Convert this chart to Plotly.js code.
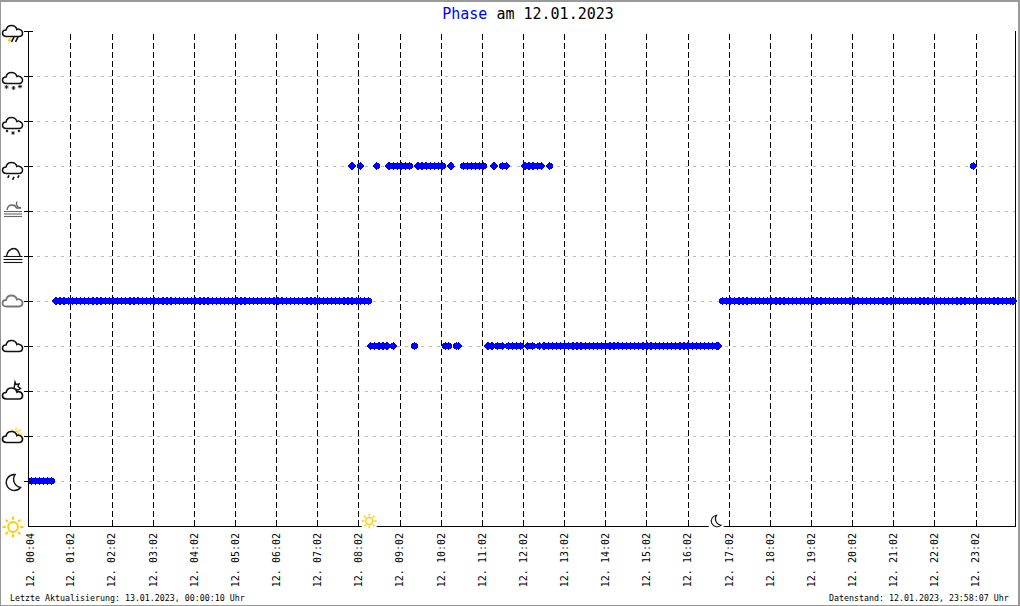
<!DOCTYPE html>
<html><head><meta charset="utf-8">
<script src="https://cdn.plot.ly/plotly-3.0.1.min.js"></script>
<style>
html,body{margin:0;padding:0;background:#fff;overflow:hidden}
#chart{position:absolute;left:0;top:0;width:1020px;height:606px}
#frame{position:absolute;left:0;top:0;width:1020px;height:606px;box-sizing:border-box;border-style:solid;border-color:#999;border-width:2px 2px 1px 1px;pointer-events:none}
.scatterlayer path.point,.shapelayer path{shape-rendering:crispEdges}
</style></head><body>
<div id="chart"></div><div id="frame"></div>
<script>
// Values: minutes after midnight at each phase level
const level1 = [4,10,16,22,28,34];
const level4 = [499,505,511,517,523,532,563,608,613,624,627,670,676,684,691,700,706,712,718,728,735,745,752,758,764,770,776,782,788,794,800,806,812,818,824,830,836,842,848,854,860,866,872,878,884,890,896,902,908,914,920,926,932,938,944,950,956,962,968,974,980,986,992,998,1004,1006];
const level5 = [40,46,52,58,64,70,76,82,88,94,100,106,112,118,124,130,136,142,148,154,160,166,172,178,184,190,196,202,208,214,220,226,232,238,244,250,256,262,268,274,280,286,292,298,304,310,316,322,328,334,340,346,352,358,364,370,376,382,388,394,400,406,412,418,424,430,436,442,448,454,460,466,472,478,484,490,496,
1012,1018,1024,1030,1036,1042,1048,1054,1060,1066,1072,1078,1084,1090,1096,1102,1108,1114,1120,1126,1132,1138,1144,1150,1156,1162,1168,1174,1180,1186,1192,1198,1204,1210,1216,1222,1228,1234,1240,1246,1252,1258,1264,1270,1276,1282,1288,1294,1300,1306,1312,1318,1324,1330,1336,1342,1348,1354,1360,1366,1372,1378,1384,1390,1396,1402,1408,1414,1420,1426,1432,1436];
const level8 = [472,484,508,526,532,538,544,550,556,568,574,580,586,592,598,604,616,634,640,646,652,658,664,679,691,697,724,730,736,742,748,760,1378];
const tickMinutes = [4,62,122,182,242,302,362,422,482,542,602,662,722,782,842,902,962,1022,1082,1142,1202,1262,1322,1382];
const tickTexts = ['00:04','01:02','02:02','03:02','04:02','05:02','06:02','07:02','08:02','09:02','10:02','11:02','12:02','13:02','14:02','15:02','16:02','17:02','18:02','19:02','20:02','21:02','22:02','23:02'];
const levels = [0,1,2,3,4,5,6,7,8,9,10,11];
const sunriseMinute = 497, sunsetMinute = 1003;
const titleWord = 'Phase', titleRest = ' am 12.01.2023';
const footLeft = 'Letzte Aktualisierung: 13.01.2023, 00:00:10 Uhr';
const footRight = 'Datenstand: 12.01.2023, 23:58:07 Uhr';

const W=1020,H=606,L=28.5,R=1015.5,T=30.5,B=526.5;
const PW=R-L,PH=B-T;
const XMIN=0.81,XMAX=1438.7;

// icons
const svg=(b)=>'data:image/svg+xml;utf8,'+encodeURIComponent('<svg xmlns="http://www.w3.org/2000/svg" width="48" height="48" viewBox="0 0 24 24">'+b+'</svg>');
const cloudPath='M5.5 17.5 C2.5 17.5 1.5 15.8 1.5 14.3 C1.5 12.5 3 11 5 11 C5.6 8.2 7.8 6.5 10.5 6.5 C13.3 6.5 15.2 8.2 15.9 10.5 C16.5 10 17.3 10 18 10.2 C20.6 10.8 21.5 12.6 21.5 14.1 C21.5 16 20 17.5 18 17.5 Z';
const cloud=(c,dy,w)=>`<path transform="translate(0 ${dy})" d="${cloudPath}" fill="#fff" stroke="${c}" stroke-width="${w||1.5}"/>`;
const rays=(cx,cy,r1,r2,c,w)=>{let s='';for(let i=0;i<8;i++){const a=i*Math.PI/4,x=Math.cos(a),y=Math.sin(a);s+=`<line x1="${cx+r1*x}" y1="${cy+r1*y}" x2="${cx+r2*x}" y2="${cy+r2*y}" stroke="${c}" stroke-width="${w}"/>`;}return s;};
const flake=(x,y,r)=>`<g stroke="#111" stroke-width="0.8"><line x1="${x-r}" y1="${y}" x2="${x+r}" y2="${y}"/><line x1="${x}" y1="${y-r}" x2="${x}" y2="${y+r}"/><line x1="${x-r*.7}" y1="${y-r*.7}" x2="${x+r*.7}" y2="${y+r*.7}"/><line x1="${x-r*.7}" y1="${y+r*.7}" x2="${x+r*.7}" y2="${y-r*.7}"/></g>`;
const drop=(x,y,l)=>`<line x1="${x}" y1="${y}" x2="${x-l*.5}" y2="${y+l}" stroke="#111" stroke-width="1.6"/>`;
const bars=(c,ys)=>ys.map(([y,a,b])=>`<line x1="${a}" y1="${y}" x2="${b}" y2="${y}" stroke="${c}" stroke-width="1.1"/>`).join('');
const icons=[
 {lv:0,dy:-1,b:`<circle cx="12" cy="12" r="5" fill="#fff" stroke="#fc0" stroke-width="1.8"/>`+rays(12,12,7.2,10.5,'#fc0',2)},
 {lv:1,dy:-1,b:`<path d="M14 4.5 A8 8 0 1 0 19.5 17.5 A8.5 8.5 0 0 1 14 4.5 Z" fill="#fff" stroke="#111" stroke-width="1.4"/>`},
 {lv:2,dy:-2,b:rays(15,8,3.6,6.5,'#fc0',1.2)+`<circle cx="15" cy="8" r="2.8" fill="#fff" stroke="#fc0"/>`+cloud('#111',-1,1.7)},
 {lv:3,dy:0,b:`<path d="M14 3 L15 5.5 L18 5 L17 7.5 L19.5 9.5 L17 11 L13 10 Z" fill="#fff" stroke="#111" stroke-width="1.4"/>`+cloud('#111',2.5,1.7)},
 {lv:4,dy:-1,b:cloud('#111',-1,1.6)},
 {lv:5,dy:-1,b:cloud('#777',-1,1.8)},
 {lv:6,dy:0,b:`<path d="M5.5 12 C6 7 10 4.5 13 4.5 C16 4.5 18 8 19 12" fill="none" stroke="#111" stroke-width="1.4"/>`+bars('#111',[[12.5,2.5,21.5],[15.5,2.5,21.5],[18.5,2.5,21.5]])},
 {lv:7,dy:1,b:`<path d="M6 12 C6.5 8.5 9 7 11 7 C13 7 15 8.5 15.5 10 L20 10 " fill="none" stroke="#666" stroke-width="1.4"/><path d="M16 3.5 A4 4 0 0 0 20 9.5" fill="none" stroke="#666" stroke-width="1.3"/>`+bars('#666',[[13.5,3,21],[16,3,21],[18.5,3,21]])},
 {lv:8,dy:-3,b:cloud('#111',-1,1.5)+drop(8,18.5,2.5)+drop(13,20,3)+drop(18,18.5,2.5)},
 {lv:9,dy:-3,b:cloud('#111',-1,1.5)+flake(6,19,1.3)+flake(12,21,1.9)+flake(18,19,1.3)},
 {lv:10,dy:-3,b:cloud('#111',-1,1.5)+flake(5.5,20,2)+flake(12.5,21,2)+flake(19,19.5,2)},
 {lv:11,dy:-2,b:cloud('#111',-2,1.6)+`<path d="M9 16 L6.5 20 L8.5 20 L7 23.5 L11 18.5 L9 18.5 L10.5 16 Z" fill="#fc0"/>`+drop(13,16,5)+drop(17,16,5)}
];
const sunIcon=svg(`<rect x="3" y="3" width="18" height="18" fill="#fff"/><circle cx="12" cy="12" r="4.2" fill="#fff" stroke="#fc0" stroke-width="1.7"/>`+rays(12,12,6,8.8,'#fc0',1.8));
const moonIcon=svg(`<rect x="3" y="3" width="18" height="18" fill="#fff"/><path d="M12.5 5 A7 7 0 1 0 18 17 A7.5 7.5 0 0 1 12.5 5 Z" fill="#fff" stroke="#111" stroke-width="1.3"/>`);

const vToPaper=v=>v/11;
const mToPaper=m=>(m-XMIN)/(XMAX-XMIN);
const images=icons.map(ic=>({source:svg(ic.b),xref:'paper',yref:'paper',x:(12.5-L)/PW,y:vToPaper(ic.lv)+ic.dy/PH,sizex:24/PW,sizey:24/PH,xanchor:'center',yanchor:'middle',sizing:'stretch',layer:'above'}));
images.push({source:sunIcon,xref:'paper',yref:'paper',x:mToPaper(sunriseMinute),y:5/PH,sizex:20/PW,sizey:20/PH,xanchor:'center',yanchor:'middle',sizing:'stretch',layer:'above'});
images.push({source:moonIcon,xref:'paper',yref:'paper',x:mToPaper(sunsetMinute),y:5/PH,sizex:20/PW,sizey:20/PH,xanchor:'center',yanchor:'middle',sizing:'stretch',layer:'above'});

const shapes=[];
tickMinutes.slice(1).forEach(m=>shapes.push({type:'line',xref:'x',yref:'paper',x0:m,x1:m,y0:0,y1:1,layer:'below',line:{color:'#000',width:1,dash:'6px,3px'}}));
levels.slice(1).forEach(v=>shapes.push({type:'line',xref:'paper',yref:'y',x0:-5.5/PW,x1:4/PW,y0:v,y1:v,layer:'above',line:{color:'#000',width:1}}));

const tipMarker={symbol:'diamond',size:6.4,color:'#0000ff',line:{width:0}};
const bodyMarker={symbol:'octagon',size:7,color:'#0000ff',line:{width:0}};
const series=[[level1,1],[level4,4],[level5,5],[level8,8]];
const traces=[];
series.forEach(([xs,v])=>{[bodyMarker,tipMarker].forEach(marker=>traces.push({type:'scatter',mode:'markers',x:xs,y:xs.map(()=>v),marker,cliponaxis:false,hoverinfo:'skip',showlegend:false}));});

const mono='"DejaVu Sans Mono", monospace';
Plotly.newPlot('chart',traces,{
 width:W,height:H,showlegend:false,paper_bgcolor:'#fff',plot_bgcolor:'#fff',
 margin:{l:L,r:W-R,t:T,b:H-B,pad:0},
 title:{text:`<span style="color:#0000ff">${titleWord}</span>${titleRest}`,font:{family:mono,size:15,color:'#000'},x:528/W,xref:'container',xanchor:'center',y:1-14/H,yref:'container',yanchor:'middle'},
 xaxis:{range:[XMIN,XMAX],tickmode:'array',tickvals:tickMinutes,ticktext:tickTexts.map(t=>'12.\u00a0'+t),tickangle:-90,ticks:'',showgrid:false,zeroline:false,showline:true,linecolor:'#000',linewidth:1,tickfont:{family:mono,size:10,color:'#000'},automargin:false,ticklabelstandoff:2},
 yaxis:{range:[0,11],tickmode:'array',tickvals:levels,showticklabels:false,ticks:'',showgrid:true,gridcolor:'#bbb',gridwidth:1,griddash:'3px,5px',zeroline:false,showline:true,mirror:true,linecolor:'#000',linewidth:1,automargin:false},
 shapes,images,
 annotations:[
  {text:footLeft,xref:'paper',yref:'paper',x:(7-L)/PW,y:(B-599)/PH,xanchor:'left',yanchor:'middle',showarrow:false,font:{family:mono,size:8.3,color:'#000'}},
  {text:footRight,xref:'paper',yref:'paper',x:(1011-L)/PW,y:(B-599)/PH,xanchor:'right',yanchor:'middle',showarrow:false,font:{family:mono,size:8.3,color:'#000'}}
 ]
},{staticPlot:true,displayModeBar:false});
</script></body></html>
